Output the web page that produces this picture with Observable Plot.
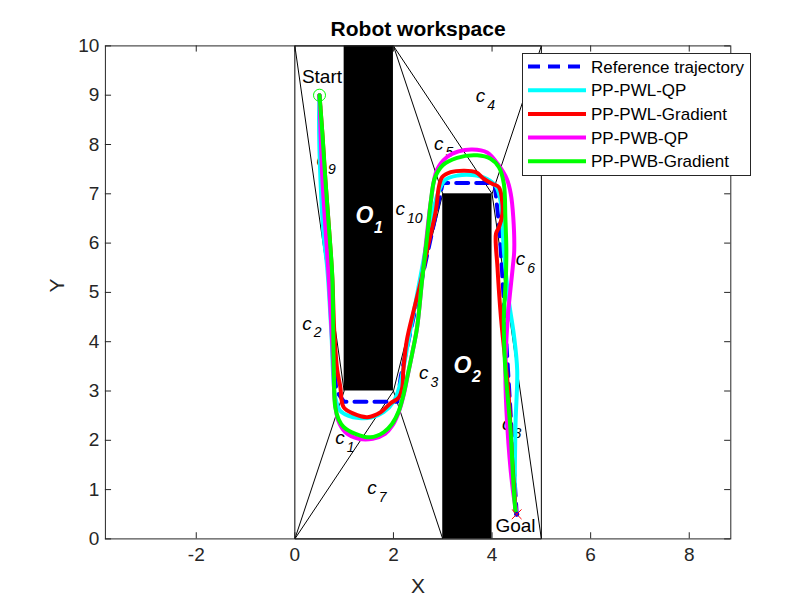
<!DOCTYPE html>
<html>
<head>
<meta charset="utf-8">
<script src="https://cdn.jsdelivr.net/npm/d3@7"></script>
<script src="https://cdn.jsdelivr.net/npm/@observablehq/plot@0.6"></script>
<style>
  body { margin: 0; background: white; }
  #wrap { position: relative; width: 807px; height: 605px; font-family: 'Liberation Sans', Arial, Helvetica, sans-serif; }
  #legend { position: absolute; left: 522px; top: 53px; width: 227px; height: 121px; background: white; border: 1px solid #262626; }
</style>
</head>
<body>
<div id="wrap"></div>
<script>
// ---- axes ----
const xTicks = [-2, 0, 2, 4, 6, 8];
const yTicks = [0, 1, 2, 3, 4, 5, 6, 7, 8, 9, 10];
const xDomain = [-3.843, 8.843];
const yDomain = [0, 10];

// ---- workspace / obstacles ----
const obsX1 = [1, 3];
const obsX2 = [2, 4];
const obsY1 = [3, 0];
const obsY2 = [10, 7];

// cell decomposition segments
const segX1 = [0, 5, 0, 0, 0, 0, 0, 2, 2, 2, 2, 5, 4];
const segY1 = [0, 0, 0, 10, 10, 0, 0, 3, 3, 10, 10, 10, 7];
const segX2 = [0, 5, 5, 5, 1, 1, 2, 3, 3, 3, 4, 4, 5];
const segY2 = [10, 10, 0, 10, 3, 3, 3, 0, 7, 7, 7, 7, 0];

// cell labels
const cellLabelX = [0.82, 0.15, 2.52, 3.67, 2.82, 4.48, 1.47, 4.20, 0.44, 2.04];
const cellLabelY = [2.04, 4.37, 3.36, 8.99, 8.02, 5.67, 1.04, 2.34, 7.68, 6.70];
const cellLabelSub = ["1", "2", "3", "4", "5", "6", "7", "8", "9", "10"];

// obstacle labels
const obsLabelX = [1.23, 3.22];
const obsLabelY = [6.56, 3.52];
const obsLabelSub = ["1", "2"];

// start / goal
const startPt = [0.5, 9.0];
const goalPt = [4.5, 0.5];
const startLabelPos = [0.55, 9.38];
const goalLabelPos = [4.475, 0.27];

// ---- trajectories ----
const refX = [0.5, 0.76, 0.84, 1.0, 2.08, 2.15, 3.0, 4.05, 4.15, 4.5];
const refY = [9.0, 4.2, 3.0, 2.78, 2.78, 3.3, 7.22, 7.22, 6.3, 0.5];

const cyanX = [0.5, 0.49, 0.52, 0.58, 0.66, 0.74, 0.82, 0.92, 1.08, 1.3, 1.55, 1.8, 2.0, 2.12, 2.2, 2.3, 2.45, 2.6, 2.75, 2.9, 3.05, 3.3, 3.6, 3.9, 4.08, 4.17, 4.24, 4.34, 4.44, 4.51, 4.475, 4.475, 4.5];
const cyanY = [9.0, 8.5, 7.27, 6.2, 5.46, 4.2, 2.87, 2.6, 2.5, 2.45, 2.46, 2.57, 2.78, 3.08, 3.45, 4.0, 4.8, 5.6, 6.4, 7.0, 7.28, 7.37, 7.38, 7.3, 7.15, 6.87, 5.85, 4.83, 4.16, 3.42, 2.27, 0.58, 0.5];

const redX = [0.5, 0.56, 0.62, 0.7, 0.76, 0.8, 0.86, 0.92, 0.99, 1.19, 1.47, 1.74, 1.94, 2.11, 2.18, 2.2, 2.27, 2.41, 2.56, 2.68, 2.86, 2.92, 2.99, 3.16, 3.43, 3.67, 3.84, 4.01, 4.14, 4.21, 4.21, 4.14, 4.08, 4.11, 4.18, 4.27, 4.33, 4.41, 4.48];
const redY = [9.0, 8.2, 7.27, 6.2, 5.3, 4.2, 3.42, 3.1, 2.67, 2.54, 2.47, 2.57, 2.75, 2.87, 3.08, 3.42, 4.02, 4.63, 5.24, 5.85, 6.66, 7.13, 7.34, 7.44, 7.47, 7.44, 7.30, 7.20, 7.13, 6.80, 6.59, 6.32, 6.19, 5.51, 4.5, 3.6, 3.0, 1.59, 0.55];

const magX = [0.5, 0.52, 0.56, 0.69, 0.74, 0.78, 0.81, 0.88, 1.02, 1.3, 1.58, 1.83, 1.98, 2.11, 2.21, 2.28, 2.38, 2.48, 2.58, 2.68, 2.76, 2.88, 3.08, 3.32, 3.6, 3.9, 4.12, 4.3, 4.38, 4.43, 4.45, 4.42, 4.32, 4.27, 4.31, 4.42, 4.5];
const magY = [9.0, 8.3, 7.27, 5.24, 4.3, 3.5, 2.8, 2.4, 2.17, 2.03, 2.03, 2.13, 2.30, 2.58, 2.93, 3.27, 3.76, 4.29, 5.24, 6.19, 6.86, 7.48, 7.74, 7.86, 7.9, 7.84, 7.6, 7.3, 7.0, 6.53, 5.85, 5.51, 4.5, 3.42, 2.27, 1.0, 0.5];

const greenX = [0.5, 0.56, 0.62, 0.7, 0.76, 0.79, 0.82, 0.89, 0.99, 1.23, 1.53, 1.80, 1.97, 2.11, 2.21, 2.28, 2.38, 2.48, 2.58, 2.69, 2.76, 2.84, 3.0, 3.29, 3.70, 3.97, 4.14, 4.24, 4.27, 4.29, 4.28, 4.24, 4.26, 4.37, 4.475, 4.5];
const greenY = [9.0, 8.2, 7.27, 6.2, 5.3, 3.42, 2.67, 2.42, 2.27, 2.13, 2.06, 2.16, 2.33, 2.60, 2.95, 3.28, 3.76, 4.29, 5.24, 6.19, 6.86, 7.32, 7.58, 7.73, 7.78, 7.71, 7.54, 7.2, 6.53, 5.85, 5.3, 4.5, 3.6, 2.27, 0.58, 0.5];

const seriesNames = ["Reference trajectory", "PP-PWL-QP", "PP-PWL-Gradient", "PP-PWB-QP", "PP-PWB-Gradient"];
const seriesColors = ["#0000ff", "#00ffff", "#ff0000", "#ff00ff", "#00ff00"];

// ---- build ----
const toPts = (xs, ys) => xs.map((x, i) => ({x, y: ys[i]}));
const fmt = d => d < 0 ? "-" + Math.abs(d) : String(d);
const tickLen = 0.125; // data units (~6px)
const idx = n => d3.range(n);

const trajs = [
  toPts(cyanX, cyanY),
  toPts(redX, redY),
  toPts(magX, magY),
  toPts(greenX, greenY)
];

const plot = Plot.plot({
  width: 807,
  height: 605,
  marginLeft: 104.9,
  marginRight: 76.7,
  marginTop: 45.4,
  marginBottom: 66.6,
  style: {fontFamily: "'Liberation Sans', Arial, Helvetica, sans-serif", fontSize: "19px", color: "#262626", background: "white"},
  x: {domain: xDomain},
  y: {domain: yDomain},
  marks: [
    // workspace boundaries & cells
    Plot.rect(idx(obsX1.length), {x1: i => obsX1[i], x2: i => obsX2[i], y1: i => obsY1[i], y2: i => obsY2[i], fill: "black"}),
    Plot.link(idx(segX1.length), {x1: i => segX1[i], y1: i => segY1[i], x2: i => segX2[i], y2: i => segY2[i], stroke: "black", strokeWidth: 1}),
    // cell labels
    Plot.text(idx(cellLabelX.length), {x: i => cellLabelX[i], y: i => cellLabelY[i], text: () => "c", textAnchor: "start", lineAnchor: "middle", fontStyle: "italic", fontSize: 19, fill: "black"}),
    Plot.text(idx(cellLabelX.length), {x: i => cellLabelX[i], y: i => cellLabelY[i], text: i => cellLabelSub[i], textAnchor: "start", lineAnchor: "middle", fontStyle: "italic", fontSize: 14, dx: 11.5, dy: 9.5, fill: "black"}),
    // obstacle labels
    Plot.text(idx(obsLabelX.length), {x: i => obsLabelX[i], y: i => obsLabelY[i], text: () => "O", textAnchor: "start", lineAnchor: "middle", fontStyle: "italic", fontWeight: "bold", fontSize: 23, fill: "white"}),
    Plot.text(idx(obsLabelX.length), {x: i => obsLabelX[i], y: i => obsLabelY[i], text: i => obsLabelSub[i], textAnchor: "start", lineAnchor: "middle", fontStyle: "italic", fontWeight: "bold", fontSize: 16, dx: 18.5, dy: 12, fill: "white"}),
    // start / goal text
    Plot.text([startLabelPos], {x: d => d[0], y: d => d[1], text: () => "Start", lineAnchor: "middle", fontSize: 19, fill: "black"}),
    Plot.text([goalLabelPos], {x: d => d[0], y: d => d[1], text: () => "Goal", lineAnchor: "middle", fontSize: 19, fill: "black"}),
    // trajectories
    Plot.line(toPts(refX, refY), {x: "x", y: "y", stroke: seriesColors[0], strokeWidth: 4, strokeDasharray: "12,8"}),
    ...trajs.map((t, k) => Plot.line(t, {x: "x", y: "y", stroke: seriesColors[k + 1], strokeWidth: 4, curve: "catmull-rom", strokeLinejoin: "round"})),
    // markers
    Plot.dot([startPt], {x: d => d[0], y: d => d[1], r: 6, stroke: "#00ff00", strokeWidth: 1, fill: "none"}),
    Plot.dot([goalPt], {x: d => d[0], y: d => d[1], r: 2.5, fill: "#0000ff", stroke: "none"}),
    Plot.dot([goalPt], {x: d => d[0], y: d => d[1], r: 4.5, symbol: "times", stroke: "#ff0000", strokeWidth: 1}),
    // frame and inward ticks
    Plot.frame({stroke: "#262626", strokeWidth: 1}),
    Plot.ruleX(xTicks, {x: d => d, y1: yDomain[0], y2: yDomain[0] + tickLen, stroke: "#262626"}),
    Plot.ruleX(xTicks, {x: d => d, y1: yDomain[1], y2: yDomain[1] - tickLen, stroke: "#262626"}),
    Plot.ruleY(yTicks, {y: d => d, x1: xDomain[0], x2: xDomain[0] + tickLen, stroke: "#262626"}),
    Plot.ruleY(yTicks, {y: d => d, x1: xDomain[1], x2: xDomain[1] - tickLen, stroke: "#262626"}),
    Plot.axisX({ticks: xTicks, anchor: "bottom", tickSize: 0, tickPadding: 9, tickFormat: fmt, label: null, fontSize: 19, fill: "#262626"}),
    Plot.axisY({ticks: yTicks, anchor: "left", tickSize: 0, tickPadding: 6, tickFormat: fmt, label: null, fontSize: 19, fill: "#262626"}),
    // titles
    Plot.text(["Robot workspace"], {frameAnchor: "top", lineAnchor: "middle", dy: -17, text: d => d, fontWeight: "bold", fontSize: 21, fill: "black"}),
    Plot.text(["X"], {frameAnchor: "bottom", lineAnchor: "middle", dy: 47.5, text: d => d, fontSize: 21, fill: "#262626"}),
    Plot.text(["Y"], {frameAnchor: "left", lineAnchor: "middle", dx: -48, rotate: -90, text: d => d, fontSize: 21, fill: "#262626"})
  ]
});

const wrap = document.getElementById("wrap");
wrap.appendChild(plot);

// legend overlay
const legend = document.createElement("div");
legend.id = "legend";
const ns = "http://www.w3.org/2000/svg";
const lsvg = document.createElementNS(ns, "svg");
lsvg.setAttribute("width", 227);
lsvg.setAttribute("height", 121);
seriesNames.forEach((name, i) => {
  const cy = 12.5 + i * 23.7;
  const ln = document.createElementNS(ns, "line");
  ln.setAttribute("x1", 5); ln.setAttribute("x2", 63);
  ln.setAttribute("y1", cy); ln.setAttribute("y2", cy);
  ln.setAttribute("stroke", seriesColors[i]);
  ln.setAttribute("stroke-width", 4);
  if (i === 0) ln.setAttribute("stroke-dasharray", "12,8");
  lsvg.appendChild(ln);
  const tx = document.createElementNS(ns, "text");
  tx.setAttribute("x", 68); tx.setAttribute("y", cy + 6);
  tx.setAttribute("font-size", 17);
  tx.setAttribute("font-family", "'Liberation Sans', Arial, Helvetica, sans-serif");
  tx.setAttribute("fill", "black");
  tx.textContent = name;
  lsvg.appendChild(tx);
});
legend.appendChild(lsvg);
wrap.appendChild(legend);
</script>
</body>
</html>
